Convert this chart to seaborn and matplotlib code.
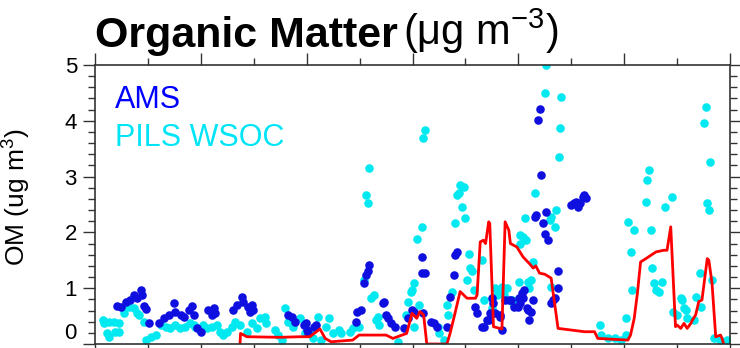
import numpy as np
import pandas as pd
import matplotlib
matplotlib.use("Agg")
import matplotlib.pyplot as plt
import seaborn as sns
from matplotlib.ticker import MultipleLocator

# AMS (tmavomodre body)
ams_x = [0.42, 0.49, 0.58, 0.67, 0.74, 0.80, 0.86, 0.89, 0.93, 0.96, 1.02, 1.21, 1.30, 1.40,
         1.49, 1.52, 1.62, 1.68, 1.78, 1.84, 1.87, 1.93, 2.00, 2.14, 2.21, 2.24, 2.27, 2.61,
         2.68, 2.77, 2.80, 2.90, 2.93, 2.96, 2.99, 3.65, 3.72, 3.78, 3.94, 3.99, 4.00, 4.02,
         4.14, 4.18, 4.93, 4.96, 5.03, 5.09, 5.12, 5.15, 5.18, 5.44, 5.47, 5.50, 5.53, 5.59,
         5.66, 5.84, 5.91, 5.99, 6.03, 6.17, 6.18, 6.19, 6.24, 6.34, 6.40, 6.46, 6.65, 6.71,
         6.78, 6.80, 6.84, 7.19, 7.22, 7.31, 7.35, 7.40, 7.44, 7.46, 7.50, 7.53, 7.56, 7.65,
         7.66, 7.69, 7.75, 7.82, 7.87, 7.91, 7.99, 8.01, 8.03, 8.06, 8.09, 8.10, 8.16, 8.18,
         8.21, 8.24, 8.28, 8.31, 8.34, 8.37, 8.40, 8.43, 8.47, 8.50, 8.53, 8.56, 8.62, 8.65,
         8.69, 8.74, 8.75, 9.00, 9.06, 9.09, 9.13, 9.16, 9.22, 9.25, 9.28]
ams_y = [0.68, 0.67, 0.76, 0.79, 0.88, 0.82, 0.97, 0.88, 0.68, 0.62, 0.37, 0.37, 0.46, 0.52,
         0.74, 0.58, 0.52, 0.49, 0.61, 0.68, 0.52, 0.28, 0.22, 0.61, 0.52, 0.64, 0.55, 0.61,
         0.70, 0.85, 0.76, 0.67, 0.58, 0.70, 0.61, 0.52, 0.49, 0.40, 0.34, 0.37, 0.25, 0.19,
         0.31, 0.34, 0.40, 0.58, 0.61, 1.09, 1.24, 1.30, 1.42, 0.73, 0.76, 0.52, 0.46, 0.37,
         0.31, 0.28, 0.46, 0.61, 0.58, 1.56, 1.27, 0.55, 1.27, 0.40, 0.37, 0.31, 0.31, 0.85,
         1.24, 1.60, 1.65, 0.67, 0.55, 0.31, 0.31, 0.43, 0.43, 0.55, 0.82, 0.73, 0.55, 0.49,
         0.52, 0.25, 0.79, 0.79, 0.79, 0.67, 0.67, 0.82, 0.73, 0.91, 0.82, 0.97, 0.64, 0.61,
         0.43, 0.58, 0.79, 2.28, 2.31, 4.01, 4.22, 3.03, 2.16, 1.98, 2.37, 1.86, 0.73, 0.79,
         0.82, 1.00, 1.30, 2.49, 2.52, 2.55, 2.46, 2.52, 2.64, 2.67, 2.61]

# PILS WSOC (azurove body)
pils_x = [0.16, 0.17, 0.23, 0.26, 0.27, 0.36, 0.37, 0.45, 0.46, 0.55, 0.61, 0.64, 0.74, 0.80,
          0.83, 0.93, 0.96, 1.05, 1.15, 1.24, 1.34, 1.42, 1.51, 1.61, 1.70, 1.80, 1.88, 1.89,
          1.98, 2.05, 2.11, 2.21, 2.30, 2.36, 2.42, 2.49, 2.58, 2.65, 2.74, 2.87, 2.96, 3.06,
          3.12, 3.21, 3.24, 3.40, 3.46, 3.53, 3.59, 3.65, 3.75, 3.87, 3.97, 4.05, 4.11, 4.21,
          4.27, 4.37, 4.43, 4.49, 4.62, 4.65, 4.81, 4.87, 4.99, 5.09, 5.12, 5.15, 5.18, 5.22,
          5.28, 5.31, 5.34, 5.37, 5.72, 5.88, 5.91, 5.97, 5.99, 6.02, 6.03, 6.09, 6.12, 6.17,
          6.20, 6.24, 6.49, 6.50, 6.59, 6.65, 6.68, 6.75, 6.80, 6.84, 6.87, 6.90, 6.93, 6.97,
          7.00, 7.03, 7.06, 7.09, 7.12, 7.16, 7.31, 7.35, 7.50, 7.56, 7.60, 7.66, 7.69, 7.72,
          7.78, 7.88, 7.90, 8.01, 8.03, 8.04, 8.09, 8.12, 8.15, 8.18, 8.21, 8.24, 8.28, 8.31,
          8.50, 8.53, 8.59, 8.62, 8.62, 8.69, 8.72, 8.76, 8.78, 8.81, 9.54, 9.57, 9.69, 9.82,
          9.94, 10.03, 10.04, 10.07, 10.12, 10.15, 10.18, 10.41, 10.44, 10.47, 10.50, 10.53,
          10.56, 10.60, 10.66, 10.72, 10.78, 10.91, 10.92, 11.00, 11.07, 11.10, 11.13, 11.16,
          11.19, 11.32, 11.35, 11.44, 11.45, 11.51, 11.54, 11.57, 11.60, 11.63, 11.66, 11.70,
          11.82, 11.95]
pils_y = [0.43, 0.37, 0.19, 0.40, 0.13, 0.40, 0.22, 0.37, 0.22, 0.55, 0.70, 0.67, 0.64, 0.55,
          0.52, 0.40, 0.07, 0.13, 0.16, 0.34, 0.31, 0.28, 0.34, 0.28, 0.31, 0.37, 0.34, 0.31,
          0.25, 0.34, 0.28, 0.31, 0.34, 0.22, 0.16, 0.22, 0.31, 0.40, 0.34, 0.22, 0.37, 0.28,
          0.46, 0.49, 0.37, 0.25, 0.16, 0.07, 0.64, 0.40, 0.31, 0.46, 0.19, 0.22, 0.10, 0.49,
          0.07, 0.31, 0.46, 0.19, 0.25, 0.19, 0.22, 0.28, 0.31, 1.15, 2.67, 2.52, 3.15, 0.82,
          0.88, 0.43, 0.49, 0.34, 0.04, 0.52, 0.76, 0.94, 0.97, 0.31, 1.09, 1.88, 0.70, 2.10,
          3.69, 3.84, 0.31, 0.19, 0.07, 0.70, 0.52, 0.94, 2.16, 2.67, 2.70, 2.85, 2.46, 2.82,
          2.25, 1.15, 1.62, 1.36, 1.30, 0.97, 1.50, 0.79, 0.64, 1.00, 0.88, 0.97, 1.03, 0.88,
          1.00, 0.79, 0.73, 1.12, 1.80, 1.95, 1.92, 2.25, 1.86, 1.12, 1.00, 1.15, 1.47, 2.70,
          4.49, 5.00, 2.22, 2.28, 1.03, 2.10, 2.40, 3.36, 3.87, 4.43, 0.34, 0.16, 0.10, 0.10,
          0.07, 0.16, 0.46, 2.19, 1.65, 0.97, 2.04, 2.55, 2.94, 3.12, 2.04, 1.36,
          1.09, 0.97, 0.94, 1.12, 2.46, 2.64, 0.58, 0.52, 0.82, 0.79, 0.64, 0.61,
          0.46, 0.43, 0.85, 1.27, 0.67, 3.96, 4.25, 2.52, 2.40, 3.27, 1.15, 0.10,
          0.07, 0.07]

# cervena ciara
line_x = [2.74, 2.75, 2.87, 3.50, 3.87, 4.06, 4.25, 4.35, 4.46, 4.87, 4.99, 5.50, 5.63, 5.89,
          5.99, 6.08, 6.14, 6.21, 6.27, 6.65, 6.71, 6.78, 6.90, 7.03, 7.19, 7.22, 7.28, 7.34,
          7.38, 7.44, 7.46, 7.53, 7.69, 7.75, 7.82, 7.85, 7.97, 8.09, 8.15, 8.21, 8.28, 8.33,
          8.40, 8.50, 8.62, 8.75, 9.25, 9.44, 9.50, 10.07, 10.12, 10.19, 10.25, 10.31, 10.41,
          10.60, 10.75, 10.81, 10.88, 10.97, 11.00, 11.07, 11.13, 11.19, 11.26, 11.29, 11.35,
          11.41, 11.47, 11.57, 11.60, 11.66, 11.73, 11.82, 11.85, 11.88]
line_y = [0.00, 0.19, 0.13, 0.12, 0.13, 0.13, 0.27, 0.10, 0.04, 0.07, 0.16, 0.16, 0.10, 0.19,
          0.55, 0.46, 0.58, 0.52, 0.00, 0.00, 0.19, 0.46, 0.94, 0.82, 0.82, 0.88, 1.83, 1.86,
          1.80, 2.19, 2.16, 0.31, 0.27, 2.19, 2.04, 1.80, 1.74, 1.56, 1.50, 1.44, 1.36, 1.40,
          1.27, 1.25, 1.18, 0.28, 0.22, 0.22, 0.10, 0.07, 0.16, 0.46, 0.91, 1.47, 1.53,
          1.65, 1.68, 1.68, 2.10, 0.31, 0.34, 0.28, 0.37, 0.28, 0.37, 0.43, 0.52,
          0.76, 0.79, 1.53, 1.50, 1.09, 0.13, 0.16, 0.10, 0.00]

ams = pd.DataFrame({"t": ams_x, "om": ams_y})
pils = pd.DataFrame({"t": pils_x, "om": pils_y})
red = pd.DataFrame({"t": line_x, "om": line_y})

sns.set_style("ticks")
plt.rcParams['font.family'] = ['Liberation Sans', 'DejaVu Sans']
plt.rcParams['mathtext.default'] = 'regular'
plt.rcParams['text.color'] = 'black'

fig = plt.figure(figsize=(7.4, 3.48), dpi=100)
ax = fig.add_axes([0.1284, 0.0115, 0.8581, 0.8017])

sns.scatterplot(data=pils, x="t", y="om", ax=ax, color="#00e8f0", s=38, linewidth=0)
sns.scatterplot(data=ams, x="t", y="om", ax=ax, color="#0f0fe0", s=38, linewidth=0)
sns.lineplot(data=red, x="t", y="om", ax=ax, color="#ff0000", linewidth=2.0,
             sort=False, estimator=None)

ax.set_xlim(0, 12)
ax.set_ylim(0, 5)
ax.xaxis.set_major_locator(MultipleLocator(2))
ax.xaxis.set_minor_locator(MultipleLocator(1))
ax.yaxis.set_major_locator(MultipleLocator(1))
ax.yaxis.set_minor_locator(MultipleLocator(0.2))
ax.tick_params(which="both", direction="out", top=True, right=True, color="#333333",
               width=1, labelcolor="black")
ax.tick_params(which="major", length=9, labelsize=16, pad=4)
ax.tick_params(which="minor", length=5)
ax.tick_params(axis="x", labelbottom=False)
for sp in ax.spines.values():
    sp.set_color("#333333")
    sp.set_linewidth(1.2)

ax.set_xlabel("")
ax.set_ylabel("OM (ug m$^{3}$)", fontsize=19, color="black")
ax.yaxis.set_label_coords(-0.098, 0.527)

fig.canvas.draw()
for lab in ax.get_yticklabels():
    if lab.get_text() == "0":
        lab.set_va("bottom")

ax.text(0.031, 0.875, "AMS", transform=ax.transAxes, color="#0000ff", fontsize=22, va="center")
ax.text(0.031, 0.738, "PILS WSOC", transform=ax.transAxes, color="#00e5f5", fontsize=22, va="center")

t1 = fig.text(95 / 740, 1 - 47 / 348, "Organic Matter", fontsize=31, fontweight="bold",
              va="baseline", color="black")
ax.annotate("(\u03bcg m$^{-3}$)", xy=(1, 0), xycoords=t1, xytext=(4, 0),
            textcoords="offset points", fontsize=30, va="bottom", ha="left", color="black")

fig.savefig("out.png", dpi=100)
